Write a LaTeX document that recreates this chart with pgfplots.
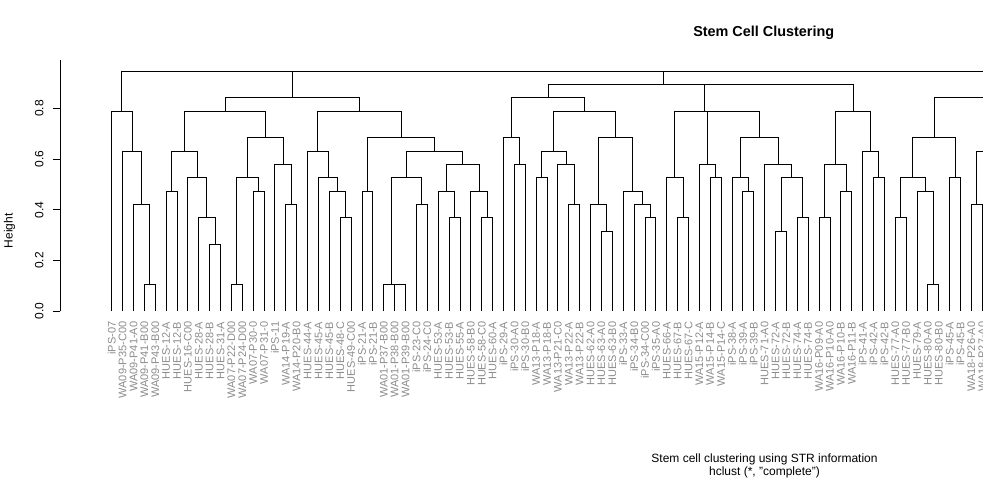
\documentclass[border=0pt]{standalone}
\usepackage{pgfplots}
\pgfplotsset{compat=1.18}
\usepackage{fontspec}
\setmainfont{Liberation Sans}
% one merge of the dendrogram: left child (x,h), right child (x,h), merge height
\newcommand\mrg[5]{\addplot[black, line width=0.9pt] coordinates {(#1,#2) (#1,#5) (#3,#5) (#3,#4)};}
\begin{document}
\begin{tikzpicture}[x=1pt,y=1pt]
\path[use as bounding box] (0pt,0pt) rectangle (983pt,480pt);
\begin{axis}[
  at={(60pt,169pt)}, anchor=south west,
  scale only axis, width=923pt, height=250.8pt,
  xmin=-4.751, xmax=80.064, ymin=0, ymax=0.99,
  axis lines*=left,
  x axis line style={draw=none},
  xtick={0,...,80},
  xtick style={draw=none},
  xticklabels={iPS-07,WA09-P35-C00,WA09-P41-A0,WA09-P41-B00,WA09-P43-B00,HUES-12-A,HUES-12-B,HUES-16-C00,HUES-28-A,HUES-28-B,HUES-31-A,WA07-P22-D00,WA07-P24-D00,WA07-P30-0,WA07-P31-0,iPS-11,WA14-P19-A,WA14-P20-B0,HUES-44-A,HUES-45-A,HUES-45-B,HUES-48-C,HUES-49-C00,iPS-21-A,iPS-21-B,WA01-P37-B00,WA01-P38-B00,WA01-P39-B00,iPS-23-C0,iPS-24-C0,HUES-53-A,HUES-53-B,HUES-55-A,HUES-58-B0,HUES-58-C0,HUES-60-A,iPS-29-A,iPS-30-A0,iPS-30-B0,WA13-P18-A,WA13-P18-B,WA13-P21-C0,WA13-P22-A,WA13-P22-B,HUES-62-A0,HUES-63-A0,HUES-63-B0,iPS-33-A,iPS-34-B0,iPS-34-C00,iPS-35-A0,HUES-66-A,HUES-67-B,HUES-67-C,WA15-P12-A,WA15-P14-B,WA15-P14-C,iPS-38-A,iPS-39-A,iPS-39-B,HUES-71-A0,HUES-72-A,HUES-72-B,HUES-74-A,HUES-74-B,WA16-P09-A0,WA16-P10-A0,WA16-P10-B,WA16-P11-B,iPS-41-A,iPS-42-A,iPS-42-B,HUES-77-A0,HUES-77-B0,HUES-79-A,HUES-80-A0,HUES-80-B0,iPS-45-A,iPS-45-B,WA18-P26-A0,WA18-P27-A0},
  x tick label style={rotate=90, anchor=east, font=\fontsize{11}{13}\selectfont, text=black!45},
  ytick={0,0.2,0.4,0.6,0.8},
  yticklabels={0.0,0.2,0.4,0.6,0.8},
  tick align=outside,
  major tick length=7.2pt,
  y tick label style={xshift=-9pt, rotate=90, anchor=south, inner sep=0pt, font=\fontsize{12}{14}\selectfont},
  ytick style={black, line width=0.9pt},
  y axis line style={black, line width=0.9pt},
]
% cluster 1
\mrg{3}{0}{4}{0}{0.1053}
\mrg{2}{0}{3.5}{0.1053}{0.4211}
\mrg{1}{0}{2.75}{0.4211}{0.6316}
\mrg{0}{0}{1.875}{0.6316}{0.7895}
% cluster 2
\mrg{9}{0}{10}{0}{0.2632}
\mrg{8}{0}{9.5}{0.2632}{0.3684}
\mrg{7}{0}{8.75}{0.3684}{0.5263}
\mrg{5}{0}{6}{0}{0.4737}
\mrg{5.5}{0.4737}{7.875}{0.5263}{0.6316}
\mrg{11}{0}{12}{0}{0.1053}
\mrg{13}{0}{14}{0}{0.4737}
\mrg{11.5}{0.1053}{13.5}{0.4737}{0.5263}
\mrg{16}{0}{17}{0}{0.4211}
\mrg{15}{0}{16.5}{0.4211}{0.5789}
\mrg{12.5}{0.5263}{15.75}{0.5789}{0.6842}
\mrg{6.6875}{0.6316}{14.125}{0.6842}{0.7895}
% cluster 3
\mrg{21}{0}{22}{0}{0.3684}
\mrg{20}{0}{21.5}{0.3684}{0.4737}
\mrg{19}{0}{20.75}{0.4737}{0.5263}
\mrg{18}{0}{19.875}{0.5263}{0.6316}
\mrg{23}{0}{24}{0}{0.4737}
\mrg{26}{0}{27}{0}{0.1053}
\mrg{25}{0}{26.5}{0.1053}{0.1053}
\mrg{28}{0}{29}{0}{0.4211}
\mrg{25.75}{0.1053}{28.5}{0.4211}{0.5263}
\mrg{31}{0}{32}{0}{0.3684}
\mrg{30}{0}{31.5}{0.3684}{0.4737}
\mrg{34}{0}{35}{0}{0.3684}
\mrg{33}{0}{34.5}{0.3684}{0.4737}
\mrg{30.75}{0.4737}{33.75}{0.4737}{0.5789}
\mrg{27.125}{0.5263}{32.25}{0.5789}{0.6316}
\mrg{23.5}{0.4737}{29.6875}{0.6316}{0.6842}
\mrg{18.9375}{0.6316}{26.59375}{0.6842}{0.7895}
\mrg{10.40625}{0.7895}{22.765625}{0.7895}{0.8421}
% cluster 4
\mrg{37}{0}{38}{0}{0.5789}
\mrg{36}{0}{37.5}{0.5789}{0.6842}
\mrg{39}{0}{40}{0}{0.5263}
\mrg{42}{0}{43}{0}{0.4211}
\mrg{41}{0}{42.5}{0.4211}{0.5789}
\mrg{39.5}{0.5263}{41.75}{0.5789}{0.6316}
\mrg{45}{0}{46}{0}{0.3158}
\mrg{44}{0}{45.5}{0.3158}{0.4211}
\mrg{49}{0}{50}{0}{0.3684}
\mrg{48}{0}{49.5}{0.3684}{0.4211}
\mrg{47}{0}{48.75}{0.4211}{0.4737}
\mrg{44.75}{0.4211}{47.875}{0.4737}{0.6842}
\mrg{40.625}{0.6316}{46.3125}{0.6842}{0.7895}
\mrg{36.75}{0.6842}{43.46875}{0.7895}{0.8421}
% cluster 5
\mrg{52}{0}{53}{0}{0.3684}
\mrg{51}{0}{52.5}{0.3684}{0.5263}
\mrg{55}{0}{56}{0}{0.5263}
\mrg{54}{0}{55.5}{0.5263}{0.5789}
\mrg{58}{0}{59}{0}{0.4737}
\mrg{57}{0}{58.5}{0.4737}{0.5263}
\mrg{61}{0}{62}{0}{0.3158}
\mrg{63}{0}{64}{0}{0.3684}
\mrg{61.5}{0.3158}{63.5}{0.3684}{0.5263}
\mrg{60}{0}{62.5}{0.5263}{0.5789}
\mrg{57.75}{0.5263}{61.25}{0.5789}{0.6842}
\mrg{54.75}{0.5789}{59.5}{0.6842}{0.7895}
\mrg{51.75}{0.5263}{57.125}{0.7895}{0.7895}
% cluster 6
\mrg{65}{0}{66}{0}{0.3684}
\mrg{67}{0}{68}{0}{0.4737}
\mrg{65.5}{0.3684}{67.5}{0.4737}{0.5789}
\mrg{70}{0}{71}{0}{0.5263}
\mrg{69}{0}{70.5}{0.5263}{0.6316}
\mrg{66.5}{0.5789}{69.75}{0.6316}{0.7895}
\mrg{54.4375}{0.7895}{68.125}{0.7895}{0.8947}
\mrg{40.109375}{0.8421}{61.28125}{0.8947}{0.8947}
% cluster 7
\mrg{72}{0}{73}{0}{0.3684}
\mrg{75}{0}{76}{0}{0.1053}
\mrg{74}{0}{75.5}{0.1053}{0.4737}
\mrg{72.5}{0.3684}{74.75}{0.4737}{0.5263}
\mrg{77}{0}{78}{0}{0.5263}
\mrg{73.625}{0.5263}{77.5}{0.5263}{0.6842}
\mrg{79}{0}{80}{0}{0.4211}
\mrg{79.5}{0.4211}{84}{0.5}{0.6316}
\mrg{75.5625}{0.6842}{90}{0.7895}{0.8421}
% root
\mrg{0.9375}{0.7895}{16.5859}{0.8421}{0.9474}
\mrg{8.7617}{0.9474}{50.6953}{0.8947}{0.9474}
\mrg{29.7285}{0.9474}{100}{0.8421}{0.9474}
\end{axis}
\node[anchor=base, font=\fontsize{14.4}{17}\selectfont\bfseries] at (763.7pt,443.3pt) {Stem Cell Clustering};
\node[anchor=base, font=\fontsize{12}{14}\selectfont] at (764.5pt,18pt) {Stem cell clustering using STR information};
\node[anchor=base, font=\fontsize{12}{14}\selectfont] at (764.5pt,4.5pt) {hclust (*, "complete")};
\node[rotate=90, font=\fontsize{12}{14}\selectfont] at (9.5pt,249.2pt) {Height};
\end{tikzpicture}
\end{document}
